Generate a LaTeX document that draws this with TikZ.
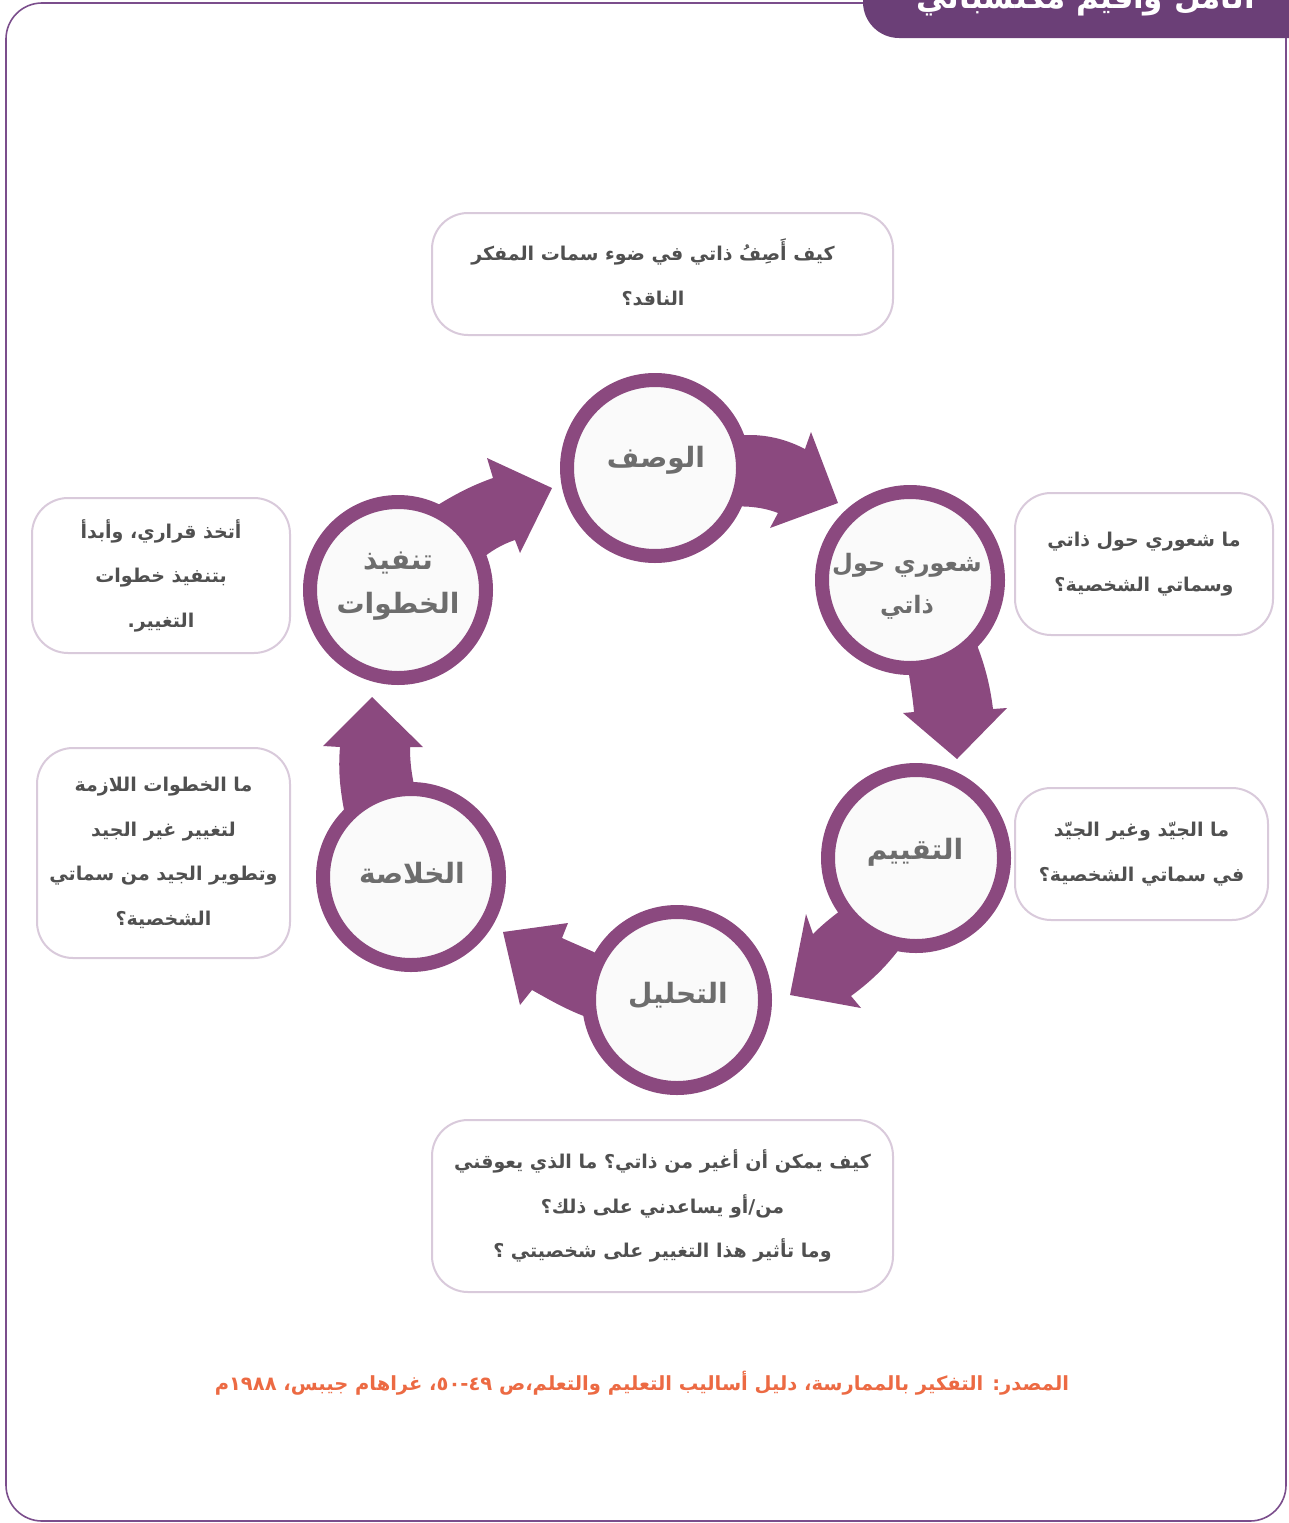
\documentclass[tikz,border=0pt]{standalone}
\usepackage{fontspec}
\TeXXeTstate=1
\newfontfamily\arabicfont[Script=Arabic]{DejaVu Sans}
\definecolor{ringcol}{RGB}{139,73,127}
\definecolor{framecol}{RGB}{123,78,140}
\definecolor{tabcol}{RGB}{107,63,119}
\definecolor{boxcol}{RGB}{217,202,219}
\definecolor{txtgray}{RGB}{80,80,80}
\definecolor{circgray}{RGB}{109,109,109}
\definecolor{srccol}{RGB}{236,106,67}
\definecolor{innerfill}{RGB}{250,250,250}
\tikzset{
  ringnode/.style={circle, draw=ringcol, line width=14pt, fill=innerfill, minimum size=176pt, inner sep=0pt},
  circtext/.style={text=circgray, align=center, inner sep=0pt, font=\arabicfont\bfseries\fontsize{28}{44}\selectfont},
  qbox/.style={draw=boxcol, line width=2pt, rounded corners=36pt, fill=white, inner sep=0pt,
    text=txtgray, align=center, font=\arabicfont\bfseries\fontsize{19}{44.5}\selectfont},
  blockarrow/.style={fill=ringcol}
}
\begin{document}
\begin{tikzpicture}[x=1pt,y=-1pt]
\useasboundingbox (0,0) rectangle (1288,1523);
% frame
\draw[framecol, line width=1.6pt, rounded corners=36pt] (6,3) rectangle (1286,1521);
% header tab
\fill[tabcol, rounded corners=36pt] (863,-60) rectangle (1330,38);
\node[anchor=base east, text=white, font=\arabicfont\bfseries\fontsize{31}{40}\selectfont, inner sep=0pt] (title) at (1255,9) {\beginR أتأمل وأقيم مكتسباتي\endR};

% block arrows (drawn under the circles)
\fill[blockarrow] (715,440) .. controls (750,430) and (780,436) .. (805,449) -- (811,432) -- (838,503) -- (770,528) -- (778,513) .. controls (760,506) and (740,505) .. (715,508) -- cycle;
\fill[blockarrow] (905,650) .. controls (910,680) and (913,700) .. (914,712) -- (903,713) -- (957,759) -- (1007,708) -- (993,709) .. controls (990,685) and (985,665) .. (975,640) -- cycle;
\fill[blockarrow] (855,900) .. controls (838,912) and (825,922) .. (813,934) -- (806,914) -- (790,995) -- (861,1008) -- (851,996) .. controls (870,982) and (885,968) .. (900,948) -- cycle;
\fill[blockarrow] (600,955) .. controls (590,950) and (575,944) .. (562,938) -- (568,923) -- (503,932) -- (520,1005) -- (532,990) .. controls (550,1000) and (570,1012) .. (595,1020) -- cycle;
\fill[blockarrow] (345,815) .. controls (340,790) and (338,770) .. (340,747) -- (323,746) -- (372,697) -- (423,747) -- (410,747) .. controls (410,765) and (412,775) .. (415,790) -- cycle;
\fill[blockarrow] (430,510) .. controls (450,497) and (470,486) .. (493,478) -- (487,458) -- (552,488) -- (520,553) -- (515,540) .. controls (500,545) and (490,552) .. (480,560) -- cycle;

% circles
\node[ringnode] (c1) at (655,468) {};
\node[ringnode] (c2) at (910,580) {};
\node[ringnode] (c3) at (916,858) {};
\node[ringnode] (c4) at (677,1000) {};
\node[ringnode] (c5) at (411,877) {};
\node[ringnode] (c6) at (398,590) {};
\node[circtext] (t1) at (656,460) {\beginR الوصف\endR};
\node[circtext, font=\arabicfont\bfseries\fontsize{24}{42}\selectfont] (t2) at (907,586) {\beginR شعوري حول\endR\\\beginR ذاتي\endR};
\node[circtext] (t3) at (915,852) {\beginR التقييم\endR};
\node[circtext] (t4) at (678,995) {\beginR التحليل\endR};
\node[circtext] (t5) at (412,873) {\beginR الخلاصة\endR};
\node[circtext] (t6) at (398,586) {\beginR تنفيذ\endR\\\beginR الخطوات\endR};

% question boxes
\node[qbox, minimum width=461pt, minimum height=122pt] (b1) at (662.5,274) {};
\node[text=txtgray, align=center, inner sep=0pt, font=\arabicfont\bfseries\fontsize{19}{44.5}\selectfont] (q1) at (653,272) {\beginR كيف أَصِفُ ذاتي في ضوء سمات المفكر\endR\\\beginR الناقد؟\endR};
\node[qbox, minimum width=258pt, minimum height=142pt] (b2) at (1144,564) {\beginR ما شعوري حول ذاتي\endR\\\beginR وسماتي الشخصية؟\endR};
\node[qbox, minimum width=253pt, minimum height=132pt] (b3) at (1141.5,854) {\beginR ما الجيّد وغير الجيّد\endR\\\beginR في سماتي الشخصية؟\endR};
\node[qbox, minimum width=461pt, minimum height=172pt] (b4) at (662.5,1206) {\beginR كيف يمكن أن أغير من ذاتي؟ ما الذي يعوقني\endR\\\beginR من/أو يساعدني على ذلك؟\endR\\\beginR وما تأثير هذا التغيير على شخصيتي ؟\endR};
\node[qbox, minimum width=253pt, minimum height=210pt] (b5) at (163.5,853) {\beginR ما الخطوات اللازمة\endR\\\beginR لتغيير غير الجيد\endR\\\beginR وتطوير الجيد من سماتي\endR\\\beginR الشخصية؟\endR};
\node[qbox, minimum width=258pt, minimum height=155pt] (b6) at (161,575.5) {\beginR أتخذ قراري، وأبدأ\endR\\\beginR بتنفيذ خطوات\endR\\\beginR التغيير.\endR};

% source
\node[text=srccol, font=\arabicfont\bfseries\fontsize{19.5}{24}\selectfont, inner sep=0pt] (src) at (642,1383) {\beginR المصدر: التفكير بالممارسة، دليل أساليب التعليم والتعلم،ص ٤٩-٥٠، غراهام جيبس، ١٩٨٨م\endR};
\end{tikzpicture}
\end{document}
